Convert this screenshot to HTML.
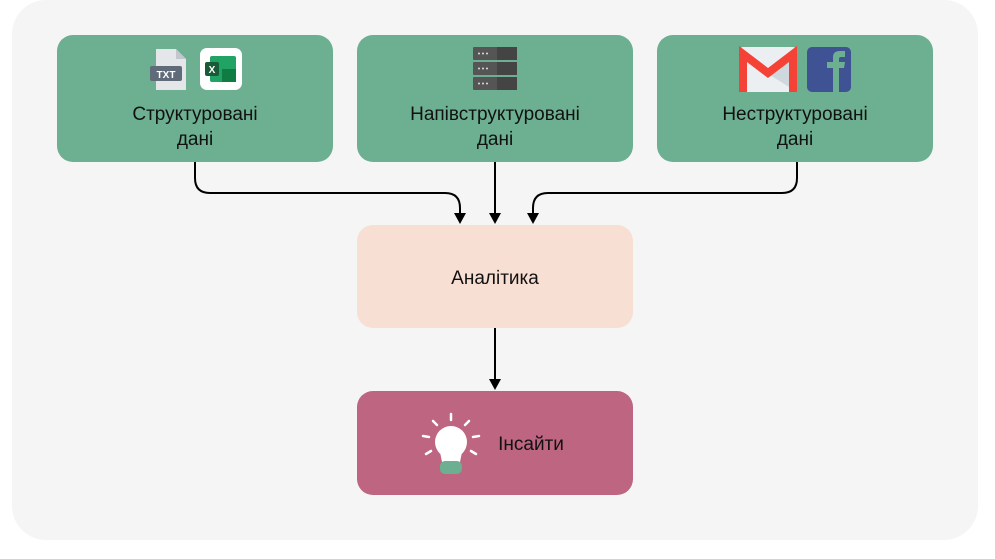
<!DOCTYPE html>
<html><head><meta charset="utf-8"><style>
body{margin:0;width:995px;height:554px;background:#fff;font-family:"Liberation Sans",sans-serif;overflow:hidden}
</style></head><body>
<svg width="995" height="554" viewBox="0 0 995 554" xmlns="http://www.w3.org/2000/svg" font-family="Liberation Sans, sans-serif">
<rect x="12" y="0" width="966" height="540" rx="34" fill="#f5f5f5"/>
<g fill="#6daf91">
<rect x="57" y="35" width="276" height="127" rx="16"/>
<rect x="357" y="35" width="276" height="127" rx="16"/>
<rect x="657" y="35" width="276" height="127" rx="16"/>
</g>
<rect x="357" y="225" width="276" height="103" rx="16" fill="#f8dfd3"/>
<rect x="357" y="391" width="276" height="104" rx="16" fill="#bd6581"/>
<g fill="none" stroke="#000" stroke-width="2">
<path d="M195 162 V178 Q195 193 210 193 H445 Q460 193 460 208 V214"/>
<path d="M495 162 V214"/>
<path d="M797 162 V178 Q797 193 782 193 H548 Q533 193 533 208 V214"/>
<path d="M495 328 V380"/>
</g>
<g fill="#000">
<path d="M454 213 H466 L460 224Z"/>
<path d="M489 213 H501 L495 224Z"/>
<path d="M527 213 H539 L533 224Z"/>
<path d="M489 379 H501 L495 390Z"/>
</g>
<g font-size="19" fill="#111" text-anchor="middle">
<text x="195" y="120">Структуровані</text><text x="195" y="145">дані</text>
<text x="495" y="120">Напівструктуровані</text><text x="495" y="145">дані</text>
<text x="795" y="120">Неструктуровані</text><text x="795" y="145">дані</text>
<text x="495" y="284">Аналітика</text>
<text x="531" y="450">Інсайти</text>
</g>
<path d="M156 49 H176 L186 59 V90 H156Z" fill="#e4e6ea"/>
<path d="M176 49 L186 59 H176Z" fill="#c3c7cd"/>
<rect x="150" y="66" width="32" height="15" rx="2" fill="#5f6b78"/>
<text x="166" y="78" font-size="10" fill="#fff" text-anchor="middle" font-weight="bold">TXT</text>
<rect x="200" y="48" width="42" height="42" rx="7" fill="#fff"/>
<rect x="210" y="56" width="26" height="26" rx="2" fill="#21a366"/>
<rect x="222" y="69" width="14" height="13" fill="#107c41"/>
<rect x="205" y="62" width="14" height="14" rx="2" fill="#185c37"/>
<text x="212" y="73" font-size="10" fill="#fff" text-anchor="middle" font-weight="bold">X</text>
<g fill="#555">
<rect x="473" y="47" width="44" height="13" rx="1"/>
<rect x="473" y="62" width="44" height="13" rx="1"/>
<rect x="473" y="77" width="44" height="13" rx="1"/>
</g>
<g fill="#444"><rect x="497" y="47" width="20" height="13"/><rect x="497" y="62" width="20" height="13"/><rect x="497" y="77" width="20" height="13"/></g>
<g fill="#ddd"><circle cx="479" cy="53.5" r="1"/><circle cx="483" cy="53.5" r="1"/><circle cx="487" cy="53.5" r="1"/><circle cx="479" cy="68.5" r="1"/><circle cx="483" cy="68.5" r="1"/><circle cx="487" cy="68.5" r="1"/><circle cx="479" cy="83.5" r="1"/><circle cx="483" cy="83.5" r="1"/><circle cx="487" cy="83.5" r="1"/></g>
<rect x="739" y="47" width="58" height="45" rx="4" fill="#eceff1"/>
<path d="M797 92 L770 75 L797 55Z" fill="#cfd8dc"/>
<path d="M743 92 V54 L768 73 L793 54 V92" fill="none" stroke="#f44336" stroke-width="8"/>
<rect x="807" y="47" width="44" height="45" rx="5" fill="#3f5293"/>
<path d="M833 92 V68 H827 V62 H833 V57 Q833 51 840 51 H845 V57 H841 Q839 57 839 59 V62 H845 L844 68 H839 V92Z" fill="#6daf91"/>
<g stroke="#fff" stroke-width="2.5" stroke-linecap="round">
<line x1="451" y1="414" x2="451" y2="420"/>
<line x1="433" y1="421" x2="437" y2="425"/>
<line x1="469" y1="421" x2="465" y2="425"/>
<line x1="423" y1="436" x2="429" y2="437"/>
<line x1="479" y1="436" x2="473" y2="437"/>
<line x1="426" y1="454" x2="431" y2="451"/>
<line x1="476" y1="454" x2="471" y2="451"/>
</g>
<circle cx="451" cy="442" r="16" fill="#fff"/>
<path d="M440 452 H462 L460 462 H442Z" fill="#fff"/>
<rect x="440" y="461" width="22" height="13" rx="5" fill="#6daf91"/>
</svg>
</body></html>
